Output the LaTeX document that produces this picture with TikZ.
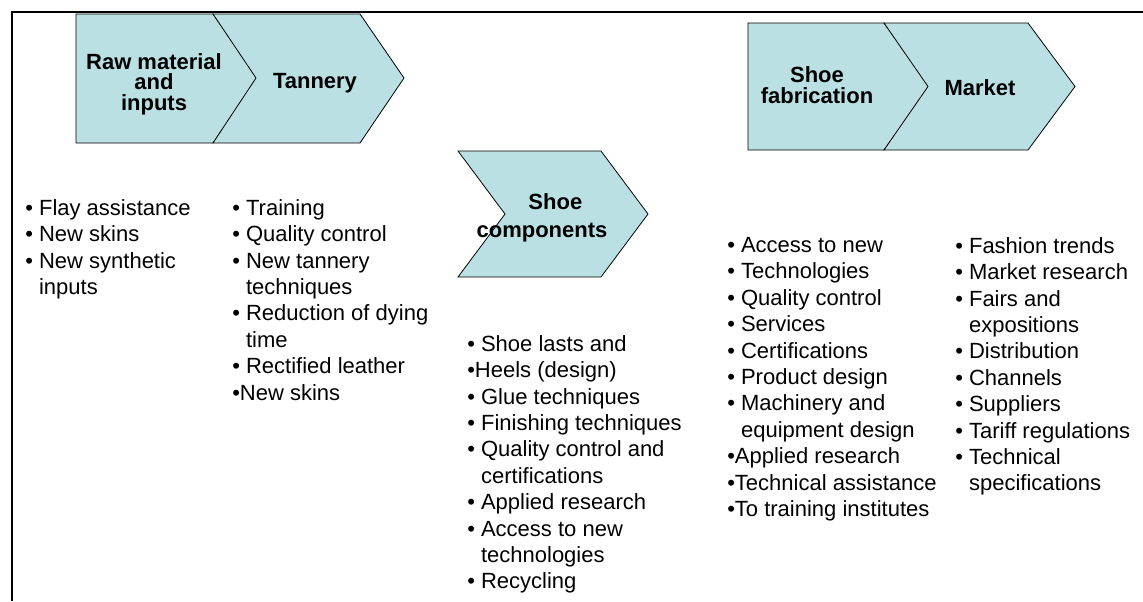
\documentclass[tikz,border=0pt]{standalone}
\usepackage{fontspec}
\setmainfont{Liberation Sans}
\definecolor{chevfill}{RGB}{187,224,227}
\newcommand{\cont}{\phantom{•\ }}

\begin{document}
\begin{tikzpicture}[x=0.75pt,y=-0.75pt,
		chev/.style={fill=chevfill,draw=black,line width=0.6pt,line join=miter},
		lbl/.style={font=\fontsize{16.5}{15.4}\selectfont\bfseries,align=center,inner sep=0pt},
		lst/.style={font=\fontsize{16.5}{19.8}\selectfont,align=left,anchor=north west,inner sep=0pt}]
		\useasboundingbox (0,0) rectangle (1143,601);
		\draw[line width=1.5pt] (12,601) -- (12,12) -- (1143,12);
		% chevrons
		\filldraw[chev] (76,14) -- (213,14) -- (258,78) -- (213,143) -- (76,143) -- cycle;
		\filldraw[chev] (213,14) -- (360,14) -- (404,78) -- (360,143) -- (213,143) -- (256,78) -- cycle;
		\filldraw[chev] (748,23) -- (884,23) -- (930,86.5) -- (884,150) -- (748,150) -- cycle;
		\filldraw[chev] (884,23) -- (1028,23) -- (1075,86.5) -- (1028,150) -- (884,150) -- (928,86.5) -- cycle;
		\filldraw[chev] (458,151) -- (601,151) -- (648,214) -- (601,277) -- (458,277) -- (505,214) -- cycle;
		\node[lbl] (raw) at (154,84) {Raw material\\and\\inputs};
		\node[lbl] (tan) at (315,83) {Tannery};
		\node[lbl] (fab) at (817,85) {Shoe\\fabrication};
		\node[lbl] (mkt) at (980,88) {Market};
		\node[lbl,font=\fontsize{16.5}{21}\selectfont\bfseries] (comp) at (542,218) {\hspace*{20pt}Shoe\\components};
		% lists
		\node[lst] (rawlist) at (25,199) {• Flay assistance\\• New skins\\• New synthetic\\\cont inputs};
		\node[lst] (tanlist) at (232,199) {• Training\\• Quality control\\• New tannery\\\cont techniques\\• Reduction of dying\\\cont time\\• Rectified leather\\•New skins};
		\node[lst] (complist) at (467,335) {• Shoe lasts and\\•Heels (design)\\• Glue techniques\\• Finishing techniques\\• Quality control and\\\cont certifications\\• Applied research\\• Access to new\\\cont technologies\\• Recycling};
		\node[lst] (fablist) at (727,237) {• Access to new\\• Technologies\\• Quality control\\• Services\\• Certifications\\• Product design\\• Machinery and\\\cont equipment design\\•Applied research\\•Technical assistance\\•To training institutes};
		\node[lst] (mktlist) at (955,237) {• Fashion trends\\• Market research\\• Fairs and\\\cont expositions\\• Distribution\\• Channels\\• Suppliers\\• Tariff regulations\\• Technical\\\cont specifications};
	\end{tikzpicture}
\end{document}
